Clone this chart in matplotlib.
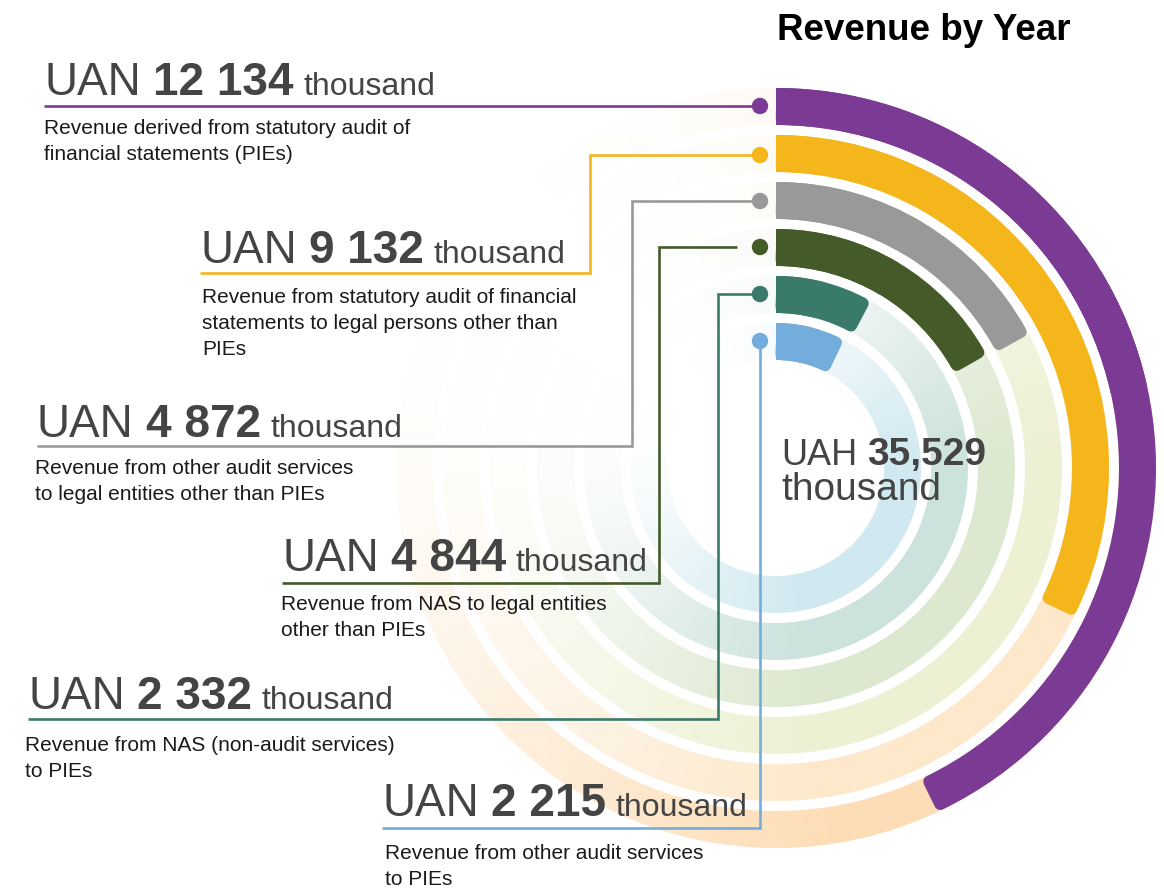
import numpy as np
import matplotlib
matplotlib.use("Agg")
import matplotlib.pyplot as plt
from matplotlib.patches import Wedge, Circle
from matplotlib.colors import to_rgb

plt.rcParams['font.family'] = ['Liberation Sans', 'DejaVu Sans']

# ---------------- data ----------------
values = [12134, 9132, 4872, 4844, 2332, 2215]
value_labels = ["12 134", "9 132", "4 872", "4 844", "2 332", "2 215"]
descriptions = [
    "Revenue derived from statutory audit of\nfinancial statements (PIEs)",
    "Revenue from statutory audit of financial\nstatements to legal persons other than\nPIEs",
    "Revenue from other audit services\nto legal entities other than PIEs",
    "Revenue from NAS to legal entities\nother than PIEs",
    "Revenue from NAS (non-audit services)\nto PIEs",
    "Revenue from other audit services\nto PIEs",
]
colors = ["#7B3B94", "#F5B61C", "#999999", "#445B29", "#3A7A6A", "#74ACDC"]
track_colors = ["#FDDDB5", "#FDE8CB", "#EDF0D2", "#DCE8CF", "#CCE2DC", "#D0E9F0"]
total_label = "35,529"
title = "Revenue by Year"

# ---------------- layout ----------------
W, H = 1164, 892
fig = plt.figure(figsize=(W / 100, H / 100), dpi=100)
ax = fig.add_axes([0, 0, 1, 1])

cx, cy = 776, H - 468
thick = 37
r_out = [380, 333, 286, 239, 192, 145]
FULL_CIRCLE_VALUE = 28200.0          # value represented by 360 degrees
deg_per_unit = 360.0 / FULL_CIRCLE_VALUE

# background tracks with a soft gradient
R = 388
xs = np.arange(cx - R, cx + R) + 0.5
ys = np.arange(cy - R, cy + R) + 0.5
X, Y = np.meshgrid(xs, ys)
dx, dy = X - cx, Y - cy
rr = np.hypot(dx, dy)
ang = np.deg2rad(-40)
ux, uy = np.cos(ang), np.sin(ang)
t = (dx * ux + dy * uy) / np.maximum(rr, 1)
s = (t + 1) / 2
fade = np.clip(1.15 * s ** 1.2, 0, 1)
img = np.zeros(X.shape + (4,))
for ro, col in zip(r_out, track_colors):
    ri = ro - thick
    cov = np.clip(np.minimum(rr - ri, ro - rr) + 0.5, 0, 1)
    m = cov > 0
    img[m, :3] = to_rgb(col)
    img[m, 3] = cov[m] * fade[m]
ax.imshow(img, extent=[cx - R, cx + R, cy - R, cy + R], origin="lower",
          interpolation="nearest", zorder=0)
ax.set_xlim(0, W)
ax.set_ylim(0, H)
ax.set_aspect("auto")
ax.axis("off")

# bars
d = 6  # corner radius (px)
for v, ro, col in zip(values, r_out, colors):
    sweep = v * deg_per_unit
    rmid = ro - thick / 2
    shrink = np.rad2deg(d / rmid)
    rounded = Wedge((cx, cy), ro - d, 90 - sweep + shrink, 90 - shrink,
                    width=thick - 2 * d, facecolor=col, edgecolor=col,
                    linewidth=2 * d * 0.72, joinstyle="round", zorder=2)
    ax.add_patch(rounded)
    sharp = Wedge((cx, cy), ro, 90 - sweep / 2, 90, width=thick,
                  facecolor=col, edgecolor="none", zorder=3)
    ax.add_patch(sharp)

# ---------------- labels ----------------
# (x, baseline y, underline y, elbow x, dot y, line end x)
label_pos = [
    (44, 95, 106, None, 106, 752),
    (200, 263, 273, 590, 155, 752),
    (37, 437, 446, 632, 201, 752),
    (282, 571, 583, 659, 247, 737),
    (28, 709, 719, 718, 294, 752),
    (382, 816, 828, 760, 341, None),
]
desc_pos = [(44, 134), (202, 303), (35, 474), (281, 610), (25, 751), (385, 859)]
dot_x = 760
line_lw = 1.9

fig.canvas.draw()
renderer = fig.canvas.get_renderer()


def rich(x, y, parts, color):
    cur = x
    for txt, size, weight, gap in parts:
        tt = ax.text(cur, H - y, txt, fontsize=size, fontweight=weight, color=color,
                     ha="left", va="baseline", zorder=5)
        bb = tt.get_window_extent(renderer=renderer)
        cur = ax.transData.inverted().transform((bb.x1, 0))[0] + gap
    return cur


for i in range(len(values)):
    x, by, uy_, ex, dy_, lx = label_pos[i]
    col = colors[i]
    rich(x, by, [("UAN", 33, "normal", 12), (value_labels[i], 33, "bold", 10),
                 ("thousand", 23, "normal", 0)], "#444444")
    # connector
    if ex is None:
        pts = [(x, uy_), (lx, uy_)]
    elif lx is None:
        pts = [(x, uy_), (ex, uy_), (ex, dy_)]
    else:
        pts = [(x, uy_), (ex, uy_), (ex, dy_), (lx, dy_)]
    px, py = zip(*pts)
    ax.plot(px, [H - p for p in py], color=col, lw=line_lw, solid_joinstyle="miter",
            solid_capstyle="butt", zorder=4)
    ax.add_patch(Circle((dot_x, H - dy_), 7.5, color=col, zorder=5))
    # description
    dx0, dy0 = desc_pos[i]
    for k, line in enumerate(descriptions[i].split("\n")):
        ax.text(dx0, H - (dy0 + 26 * k), line, fontsize=15, color="#1a1a1a",
                ha="left", va="baseline", zorder=5)

# centre total
rich(781, 465, [("UAH", 26, "normal", 10), (total_label, 28, "bold", 0)], "#444444")
ax.text(781, H - 500, "thousand", fontsize=28, color="#444444", ha="left",
        va="baseline", zorder=5)

# title
ax.text(924, H - 40, title, fontsize=26.5, fontweight="bold", color="black",
        ha="center", va="baseline", zorder=5)

fig.savefig("out.png", dpi=100)
